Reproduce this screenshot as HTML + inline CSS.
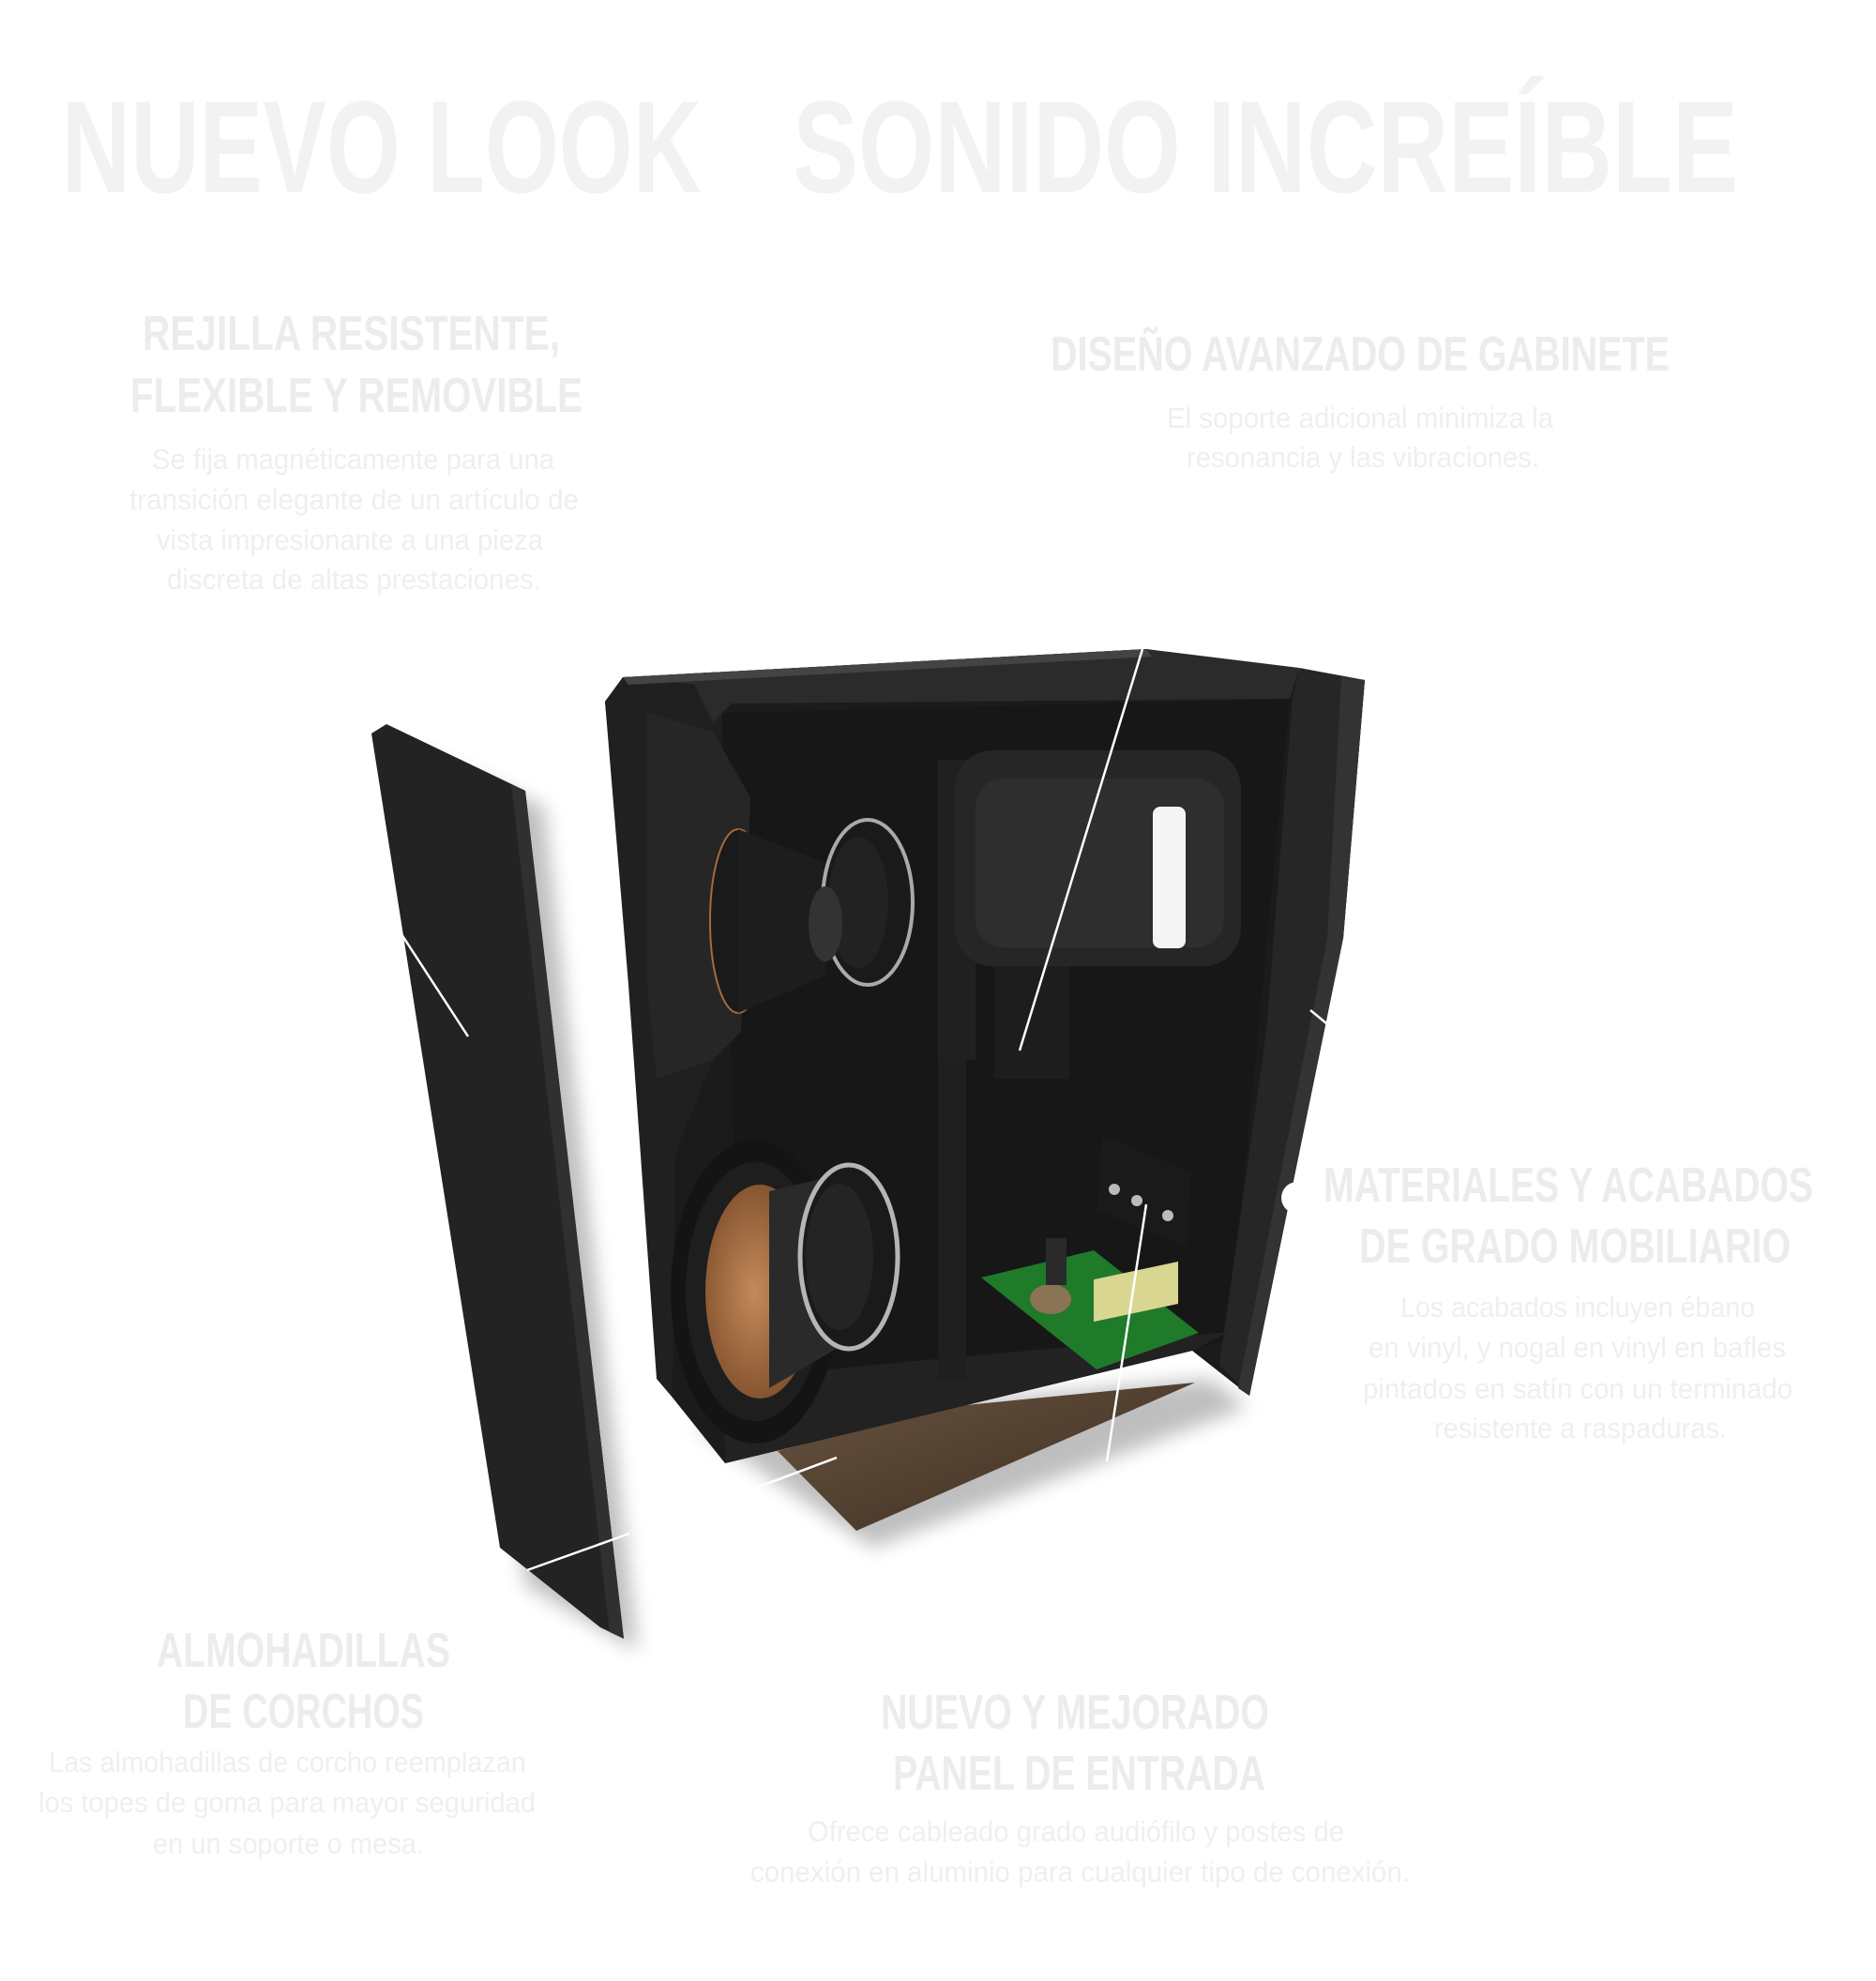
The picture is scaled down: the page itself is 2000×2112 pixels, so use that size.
<!DOCTYPE html>
<html><head><meta charset="utf-8"><style>
html,body{margin:0;padding:0;background:#fff;}
svg{display:block;}
.t{font-family:"Liberation Sans Narrow","Liberation Sans",sans-serif;font-weight:bold;}
.h{font-family:"Liberation Sans Narrow","Liberation Sans",sans-serif;font-weight:bold;fill:#ececec;font-size:52px;}
.b{font-family:"Liberation Sans Narrow","Liberation Sans",sans-serif;fill:#efefef;font-size:31px;}
</style></head><body>
<svg width="2000" height="2112" viewBox="0 0 2000 2112" xmlns="http://www.w3.org/2000/svg">
<defs>
<radialGradient id="cone" cx="0.45" cy="0.5" r="0.6"><stop offset="0" stop-color="#c48a5a"/><stop offset="1" stop-color="#7a4a28"/></radialGradient>
<linearGradient id="cork" x1="0" y1="0" x2="1" y2="1"><stop offset="0" stop-color="#6a5440"/><stop offset="1" stop-color="#3a2c20"/></linearGradient>
<filter id="sh" x="-20%" y="-20%" width="140%" height="140%"><feGaussianBlur stdDeviation="10"/></filter>
</defs>
<rect width="2000" height="2112" fill="#fff"/>
<text class="t" x="66" y="205" font-size="140" fill="#f2f2f2" textLength="682" lengthAdjust="spacingAndGlyphs">NUEVO LOOK</text>
<text class="t" x="845" y="205" font-size="140" fill="#f2f2f2" textLength="1008" lengthAdjust="spacingAndGlyphs">SONIDO INCREÍBLE</text>

<text class="h" x="152" y="373" textLength="445" lengthAdjust="spacingAndGlyphs">REJILLA RESISTENTE,</text>
<text class="h" x="139" y="439" textLength="482" lengthAdjust="spacingAndGlyphs">FLEXIBLE Y REMOVIBLE</text>
<text class="b" x="162" y="500" textLength="429" lengthAdjust="spacingAndGlyphs">Se fija magnéticamente para una</text>
<text class="b" x="138" y="543" textLength="479" lengthAdjust="spacingAndGlyphs">transición elegante de un artículo de</text>
<text class="b" x="167" y="586" textLength="412" lengthAdjust="spacingAndGlyphs">vista impresionante a una pieza</text>
<text class="b" x="178" y="628" textLength="399" lengthAdjust="spacingAndGlyphs">discreta de altas prestaciones.</text>

<text class="h" x="1120" y="395" textLength="660" lengthAdjust="spacingAndGlyphs">DISEÑO AVANZADO DE GABINETE</text>
<text class="b" x="1244" y="456" textLength="412" lengthAdjust="spacingAndGlyphs">El soporte adicional minimiza la</text>
<text class="b" x="1265" y="498" textLength="376" lengthAdjust="spacingAndGlyphs">resonancia y las vibraciones.</text>

<text class="h" x="1411" y="1281" textLength="522" lengthAdjust="spacingAndGlyphs">MATERIALES Y ACABADOS</text>
<text class="h" x="1449" y="1346" textLength="460" lengthAdjust="spacingAndGlyphs">DE GRADO MOBILIARIO</text>
<text class="b" x="1493" y="1404" textLength="378" lengthAdjust="spacingAndGlyphs">Los acabados incluyen ébano</text>
<text class="b" x="1459" y="1447" textLength="445" lengthAdjust="spacingAndGlyphs">en vinyl, y nogal en vinyl en bafles</text>
<text class="b" x="1453" y="1491" textLength="458" lengthAdjust="spacingAndGlyphs">pintados en satín con un terminado</text>
<text class="b" x="1529" y="1533" textLength="312" lengthAdjust="spacingAndGlyphs">resistente a raspaduras.</text>

<text class="h" x="167" y="1777" textLength="313" lengthAdjust="spacingAndGlyphs">ALMOHADILLAS</text>
<text class="h" x="195" y="1842" textLength="257" lengthAdjust="spacingAndGlyphs">DE CORCHOS</text>
<text class="b" x="52" y="1889" textLength="509" lengthAdjust="spacingAndGlyphs">Las almohadillas de corcho reemplazan</text>
<text class="b" x="41" y="1932" textLength="530" lengthAdjust="spacingAndGlyphs">los topes de goma para mayor seguridad</text>
<text class="b" x="163" y="1976" textLength="289" lengthAdjust="spacingAndGlyphs">en un soporte o mesa.</text>

<text class="h" x="939" y="1843" textLength="414" lengthAdjust="spacingAndGlyphs">NUEVO Y MEJORADO</text>
<text class="h" x="952" y="1908" textLength="397" lengthAdjust="spacingAndGlyphs">PANEL DE ENTRADA</text>
<text class="b" x="861" y="1963" textLength="572" lengthAdjust="spacingAndGlyphs">Ofrece cableado grado audiófilo y postes de</text>
<text class="b" x="800" y="2006" textLength="703" lengthAdjust="spacingAndGlyphs">conexión en aluminio para cualquier tipo de conexión.</text>

<polygon points="440,800 580,860 680,1760 560,1690" fill="#000" opacity="0.25" filter="url(#sh)"/>
<polygon points="740,1520 1290,1470 1330,1500 930,1650" fill="#000" opacity="0.25" filter="url(#sh)"/>

<polygon points="829,1547 1010,1500 1274,1474 913,1632" fill="url(#cork)"/>

<polygon points="645,748 664,722 1222,692 1455,725 1432,1000 1332,1488 1271,1440 773,1560 717,1490" fill="#1b1b1b"/>
<polygon points="770,760 1375,745 1310,1430 790,1530" fill="#171717"/>
<polygon points="645,748 664,722 735,730 770,760 760,1130 720,1230 717,1490 700,1470 670,1050" fill="#202020"/>
<polygon points="664,722 1222,692 1385,712 1375,745 780,750 760,770 740,730" fill="#2b2b2b"/>
<polygon points="664,722 1222,692 1228,700 670,730" fill="#444"/>
<polygon points="1385,712 1455,725 1432,1000 1332,1488 1300,1455 1350,1100 1378,745" fill="#262626"/>
<polygon points="1430,722 1455,725 1432,1000 1332,1488 1320,1480 1415,1000" fill="#333"/>
<polygon points="773,1470 1310,1420 1271,1440 773,1560" fill="#222"/>
<polygon points="690,760 760,780 800,850 790,1100 760,1130 700,1150 690,1050" fill="#262626"/>
<ellipse cx="787" cy="982" rx="30" ry="98" fill="#1a1a1a" stroke="#a8693c" stroke-width="2"/>
<polygon points="787,884 880,920 880,1040 787,1080" fill="#1d1d1d"/>
<ellipse cx="925" cy="962" rx="48" ry="88" fill="#1a1a1a" stroke="#aaa" stroke-width="4"/>
<ellipse cx="915" cy="962" rx="32" ry="70" fill="#222"/>
<ellipse cx="880" cy="985" rx="18" ry="40" fill="#333"/>
<rect x="1000" y="810" width="40" height="320" fill="#202020"/>
<rect x="1018" y="800" width="305" height="230" rx="40" fill="#262626"/>
<rect x="1040" y="830" width="265" height="180" rx="30" fill="#2e2e2e"/>
<rect x="1229" y="860" width="35" height="151" rx="8" fill="#f4f4f4"/>
<rect x="1060" y="1030" width="80" height="120" fill="#1d1d1d"/>
<rect x="1000" y="1130" width="30" height="340" fill="#1f1f1f"/>
<ellipse cx="805" cy="1377" rx="90" ry="162" fill="#141414"/>
<ellipse cx="805" cy="1377" rx="74" ry="138" fill="#1e1e1e"/>
<ellipse cx="810" cy="1377" rx="58" ry="114" fill="url(#cone)"/>
<polygon points="820,1270 905,1250 905,1430 820,1480" fill="#2a2a2a"/>
<ellipse cx="905" cy="1340" rx="52" ry="98" fill="#1a1a1a" stroke="#b5b5b5" stroke-width="5"/>
<ellipse cx="895" cy="1340" rx="36" ry="78" fill="#242424"/>
<polygon points="1175,1210 1270,1250 1265,1330 1170,1290" fill="#1a1a1a"/>
<circle cx="1188" cy="1268" r="6" fill="#bbb"/><circle cx="1212" cy="1280" r="6" fill="#bbb"/><circle cx="1245" cy="1296" r="6" fill="#bbb"/>
<polygon points="1046,1362 1166,1333 1278,1421 1169,1460" fill="#1f7a2a"/>
<rect x="1166" y="1362" width="90" height="45" fill="#d8d690" transform="skewY(-12) translate(0,250)"/>
<ellipse cx="1120" cy="1385" rx="22" ry="16" fill="#8b7355"/>
<rect x="1115" y="1320" width="22" height="50" fill="#2a2a2a"/>
<polygon points="396,782 412,772 560,843 665,1747 640,1735 533,1650" fill="#232323"/>
<polygon points="545,836 560,843 665,1747 650,1740" fill="#303030"/>
<g stroke="#fff" stroke-width="2.5">
<line x1="415" y1="976" x2="499" y2="1105"/>
<line x1="1218" y1="692" x2="1087" y2="1120"/>
<line x1="1397" y1="1077" x2="1425" y2="1100"/>
<line x1="892" y1="1554" x2="769" y2="1600"/>
<line x1="671" y1="1635" x2="562" y2="1674"/>
<line x1="1222" y1="1284" x2="1180" y2="1558"/>
</g>
<circle cx="1383" cy="1277" r="17" fill="#fff"/>
</svg>
</body></html>
